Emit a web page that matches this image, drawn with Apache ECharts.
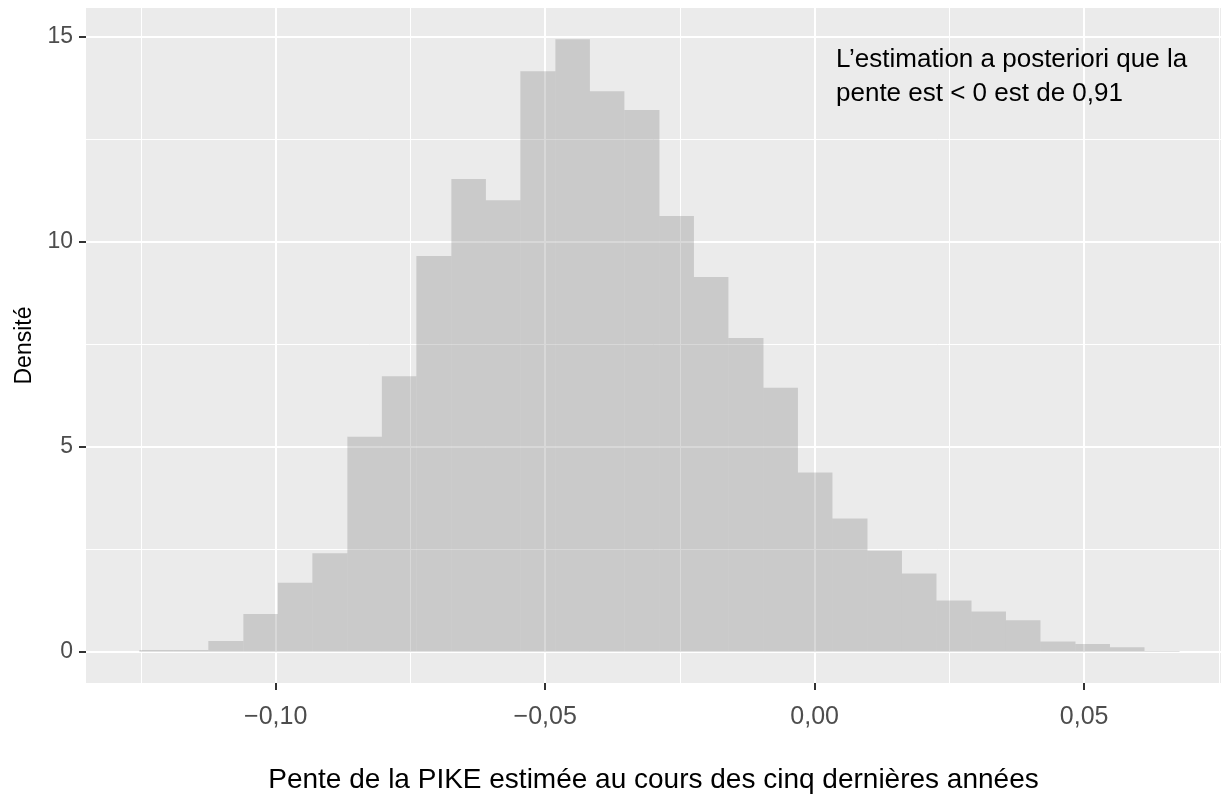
<!DOCTYPE html>
<html>
<head>
<meta charset="utf-8">
<script src="https://cdn.jsdelivr.net/npm/echarts@6/dist/echarts.min.js"></script>
<style>
  html, body { margin: 0; padding: 0; background: #fff; }
  #chart { width: 1222px; height: 795px; }
</style>
</head>
<body>
<div id="chart"></div>
<script>
// bin edges of the histogram (left edge of each bin, last value = right edge of last bin)
var binEdges = [-0.1253, -0.1189, -0.1125, -0.1060, -0.0996, -0.0932, -0.0867, -0.0803,
    -0.0739, -0.0674, -0.0610, -0.0546, -0.0481, -0.0417, -0.0353, -0.0288, -0.0224,
    -0.0160, -0.0095, -0.0031, 0.0033, 0.0098, 0.0162, 0.0226, 0.0291, 0.0355, 0.0419,
    0.0484, 0.0548, 0.0612, 0.0677];
// density of each bin
var densite = [0.04, 0.04, 0.26, 0.92, 1.68, 2.40, 5.24, 6.72, 9.65, 11.53, 11.01, 14.16,
    14.94, 13.67, 13.21, 10.63, 9.14, 7.65, 6.44, 4.37, 3.25, 2.46, 1.91, 1.25, 0.98,
    0.77, 0.25, 0.19, 0.11, 0.02];

var xTicks = [-0.10, -0.05, 0.00, 0.05];
var xMinor = [-0.125, -0.075, -0.025, 0.025, 0.075];
var yTicks = [0, 5, 10, 15];
var yMinor = [2.5, 7.5, 12.5];

var xTitle = "Pente de la PIKE estimée au cours des cinq dernières années";
var yTitle = "Densité";
var note = "L\u2019estimation a posteriori que la\npente est < 0 est de 0,91";

var xMin = -0.1352, xMax = 0.0754;
var yMin = -0.763, yMax = 15.70;

var FONT = "Liberation Sans";

// build histogram data
var histData = [];
for (var i = 0; i < densite.length; i++) {
    histData.push([binEdges[i], binEdges[i + 1], densite[i]]);
}

function fmtX(v) {
    var s = Math.abs(v).toFixed(2).replace(".", ",");
    return v < -1e-9 ? "\u2212" + s : s;
}

var myChart = echarts.init(document.getElementById("chart"));

var option = {
    backgroundColor: "#ffffff",
    animation: false,
    grid: {
        left: 86, right: 1, top: 8, bottom: 112,
        outerBoundsMode: "none", containLabel: false,
        show: true, backgroundColor: "#EBEBEB", borderWidth: 0
    },
    xAxis: [{
        type: "value", min: xMin, max: xMax,
        name: xTitle, nameLocation: "middle", nameGap: 83,
        nameTextStyle: { fontFamily: FONT, fontSize: 28, color: "#000" },
        axisLine: { show: false, onZero: false },
        axisTick: { show: true, length: 7, customValues: xTicks, lineStyle: { color: "#333", width: 2 } },
        axisLabel: { customValues: xTicks, formatter: fmtX, margin: 22, fontFamily: FONT, fontSize: 25, color: "#4D4D4D" },
        splitLine: { show: true, lineStyle: { color: "#ffffff", width: 2 } }
    }, {
        type: "value", min: xMin, max: xMax, position: "bottom",
        axisLine: { show: false, onZero: false },
        axisTick: { show: false, customValues: xMinor },
        axisLabel: { show: false, customValues: xMinor },
        splitLine: { show: true, lineStyle: { color: "#ffffff", width: 1 } }
    }],
    yAxis: [{
        type: "value", min: yMin, max: yMax,
        name: yTitle, nameLocation: "middle", nameGap: 50, nameRotate: 90,
        nameTextStyle: { fontFamily: FONT, fontSize: 23, color: "#000" },
        axisLine: { show: false, onZero: false },
        axisTick: { show: true, length: 7, customValues: yTicks, lineStyle: { color: "#333", width: 2 } },
        axisLabel: { customValues: yTicks, margin: 13, fontFamily: FONT, fontSize: 23, color: "#4D4D4D" },
        splitLine: { show: true, lineStyle: { color: "#ffffff", width: 2 } }
    }, {
        type: "value", min: yMin, max: yMax, position: "left",
        axisLine: { show: false, onZero: false },
        axisTick: { show: false, customValues: yMinor },
        axisLabel: { show: false, customValues: yMinor },
        splitLine: { show: true, lineStyle: { color: "#ffffff", width: 1 } }
    }],
    graphic: [{
        type: "text", left: 836, top: 43, z: 100,
        style: { text: note, fontFamily: FONT, fontSize: 26, lineHeight: 34, fill: "#000" }
    }],
    series: [{
        type: "custom",
        xAxisIndex: 0, yAxisIndex: 0,
        data: histData,
        renderItem: function (params, api) {
            var p0 = api.coord([api.value(0), api.value(2)]);
            var p1 = api.coord([api.value(1), 0]);
            return {
                type: "rect",
                shape: { x: p0[0], y: p0[1], width: p1[0] - p0[0], height: p1[1] - p0[1] },
                style: { fill: "rgba(127,127,127,0.3)" }
            };
        }
    }]
};
myChart.setOption(option);
</script>
</body>
</html>
